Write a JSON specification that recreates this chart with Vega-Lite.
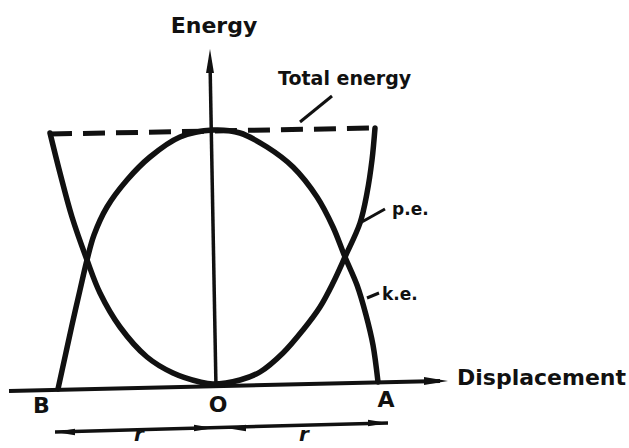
{
  "$schema": "https://vega.github.io/schema/vega-lite/v6.json",
  "width": 629,
  "height": 448,
  "padding": 0,
  "autosize": {"type": "none"},
  "background": "white",
  "config": {"view": {"stroke": null}},
  "datasets": {
    "ke": [
      {"d": -1.55, "e": -0.04}, {"d": -1.48, "e": 0.28}, {"d": -1.41, "e": 0.60}, {"d": -1.33, "e": 0.95},
      {"d": -1.26, "e": 1.25}, {"d": -1.19, "e": 1.50}, {"d": -1.06, "e": 1.78}, {"d": -0.86, "e": 2.05},
      {"d": -0.63, "e": 2.28}, {"d": -0.33, "e": 2.48}, {"d": 0.00, "e": 2.55}, {"d": 0.27, "e": 2.52},
      {"d": 0.54, "e": 2.38}, {"d": 0.80, "e": 2.18}, {"d": 1.04, "e": 1.88}, {"d": 1.20, "e": 1.58},
      {"d": 1.32, "e": 1.28}, {"d": 1.44, "e": 1.00}, {"d": 1.53, "e": 0.70}, {"d": 1.60, "e": 0.40},
      {"d": 1.65, "e": 0.03}
    ],
    "pe": [
      {"d": -1.63, "e": 2.52}, {"d": -1.53, "e": 2.12}, {"d": -1.41, "e": 1.68}, {"d": -1.26, "e": 1.25},
      {"d": -1.13, "e": 0.92}, {"d": -0.93, "e": 0.58}, {"d": -0.66, "e": 0.28}, {"d": -0.40, "e": 0.12},
      {"d": -0.13, "e": 0.03}, {"d": 0.00, "e": 0.01}, {"d": 0.27, "e": 0.05}, {"d": 0.47, "e": 0.13},
      {"d": 0.70, "e": 0.32}, {"d": 0.90, "e": 0.55}, {"d": 1.07, "e": 0.78}, {"d": 1.20, "e": 1.02},
      {"d": 1.32, "e": 1.28}, {"d": 1.47, "e": 1.62}, {"d": 1.54, "e": 1.92}, {"d": 1.59, "e": 2.25},
      {"d": 1.62, "e": 2.57}
    ],
    "total": [{"d": -1.63, "e": 2.51}, {"d": 1.62, "e": 2.57}],
    "haxis": [{"d": -2.04, "e": -0.06}, {"d": 2.27, "e": 0.04}],
    "vaxis": [{"d": 0.03, "e": -0.03}, {"d": -0.03, "e": 3.24}],
    "span": [{"d": -1.58, "e": -0.47}, {"d": 1.75, "e": -0.38}],
    "leaders": [
      {"seg": "total", "d": 0.87, "e": 2.63}, {"seg": "total", "d": 1.19, "e": 2.89},
      {"seg": "pe", "d": 1.47, "e": 1.62}, {"seg": "pe", "d": 1.72, "e": 1.76},
      {"seg": "ke", "d": 1.54, "e": 0.87}, {"seg": "ke", "d": 1.66, "e": 0.92}
    ],
    "axisHeads": [
      {"dir": "right", "d": 2.23, "e": 0.04},
      {"dir": "up", "d": -0.03, "e": 3.24}
    ],
    "spanHeads": [
      {"dir": "left", "d": -1.48, "e": -0.47},
      {"dir": "right", "d": -0.09, "e": -0.43},
      {"dir": "left", "d": 0.23, "e": -0.43},
      {"dir": "right", "d": 1.65, "e": -0.38}
    ],
    "labels": [
      {"group": "big", "text": "Energy", "d": 0.01, "e": 3.52},
      {"group": "big", "text": "B", "d": -1.715, "e": -0.28},
      {"group": "big", "text": "O", "d": 0.05, "e": -0.27},
      {"group": "big", "text": "A", "d": 1.73, "e": -0.22},
      {"group": "axis", "text": "Displacement", "d": 2.44, "e": 0.0},
      {"group": "total", "text": "Total energy", "d": 0.65, "e": 3.0},
      {"group": "curve", "text": "p.e.", "d": 1.79, "e": 1.70},
      {"group": "curve", "text": "k.e.", "d": 1.69, "e": 0.85},
      {"group": "r", "text": "r", "d": -0.74, "e": -0.56},
      {"group": "r", "text": "r", "d": 0.91, "e": -0.56}
    ]
  },
  "encoding": {
    "x": {"field": "d", "type": "quantitative", "scale": {"domain": [-2.13, 4.16], "nice": false, "zero": false}, "axis": null},
    "y": {"field": "e", "type": "quantitative", "scale": {"domain": [-0.63, 3.85], "nice": false, "zero": false}, "axis": null}
  },
  "layer": [
    {"data": {"name": "haxis"}, "mark": {"type": "line", "color": "#111", "strokeWidth": 4}, "encoding": {}},
    {"data": {"name": "vaxis"}, "mark": {"type": "line", "color": "#111", "strokeWidth": 3.5}, "encoding": {}},
    {"data": {"name": "span"}, "mark": {"type": "line", "color": "#111", "strokeWidth": 3.5}, "encoding": {}},
    {"data": {"name": "total"}, "mark": {"type": "line", "color": "#111", "strokeWidth": 5, "strokeDash": [22, 11]}, "encoding": {}},
    {"data": {"name": "ke"}, "mark": {"type": "line", "color": "#111", "strokeWidth": 5.5, "interpolate": "catmull-rom", "strokeCap": "round"}, "encoding": {}},
    {"data": {"name": "pe"}, "mark": {"type": "line", "color": "#111", "strokeWidth": 5.5, "interpolate": "catmull-rom", "strokeCap": "round", "strokeJoin": "round"}, "encoding": {}},
    {"data": {"name": "leaders"}, "mark": {"type": "line", "color": "#111", "strokeWidth": 3}, "encoding": {"detail": {"field": "seg"}}},
    {
      "data": {"name": "axisHeads"},
      "mark": {"type": "point", "filled": true, "color": "#111", "opacity": 1, "size": 576},
      "encoding": {"shape": {"field": "dir", "type": "nominal", "legend": null,
        "scale": {"domain": ["left", "right", "up"], "range": ["M -1 0 L 1 -0.33 L 1 0.33 Z", "M 1 0 L -1 -0.33 L -1 0.33 Z", "M 0 -1 L 0.33 1 L -0.33 1 Z"]}}}
    },
    {
      "data": {"name": "spanHeads"},
      "mark": {"type": "point", "filled": true, "color": "#111", "opacity": 1, "size": 400},
      "encoding": {"shape": {"field": "dir", "type": "nominal", "legend": null,
        "scale": {"domain": ["left", "right", "up"], "range": ["M -1 0 L 1 -0.35 L 1 0.35 Z", "M 1 0 L -1 -0.35 L -1 0.35 Z", "M 0 -1 L 0.35 1 L -0.35 1 Z"]}}}
    },
    {
      "data": {"name": "labels"}, "transform": [{"filter": "datum.group === 'big'"}],
      "mark": {"type": "text", "font": "DejaVu Sans", "fontWeight": "bold", "fontSize": 22, "align": "center", "baseline": "alphabetic", "color": "#111"},
      "encoding": {"text": {"field": "text"}}
    },
    {
      "data": {"name": "labels"}, "transform": [{"filter": "datum.group === 'axis'"}],
      "mark": {"type": "text", "font": "DejaVu Sans", "fontWeight": "bold", "fontSize": 22, "align": "left", "baseline": "alphabetic", "color": "#111"},
      "encoding": {"text": {"field": "text"}}
    },
    {
      "data": {"name": "labels"}, "transform": [{"filter": "datum.group === 'total'"}],
      "mark": {"type": "text", "font": "DejaVu Sans", "fontWeight": "bold", "fontSize": 19, "align": "left", "baseline": "alphabetic", "color": "#111"},
      "encoding": {"text": {"field": "text"}}
    },
    {
      "data": {"name": "labels"}, "transform": [{"filter": "datum.group === 'curve'"}],
      "mark": {"type": "text", "font": "DejaVu Sans", "fontWeight": "bold", "fontSize": 17, "align": "left", "baseline": "alphabetic", "color": "#111"},
      "encoding": {"text": {"field": "text"}}
    },
    {
      "data": {"name": "labels"}, "transform": [{"filter": "datum.group === 'r'"}],
      "mark": {"type": "text", "font": "DejaVu Sans", "fontWeight": "bold", "fontStyle": "italic", "fontSize": 20, "align": "center", "baseline": "alphabetic", "color": "#111"},
      "encoding": {"text": {"field": "text"}}
    }
  ]
}
